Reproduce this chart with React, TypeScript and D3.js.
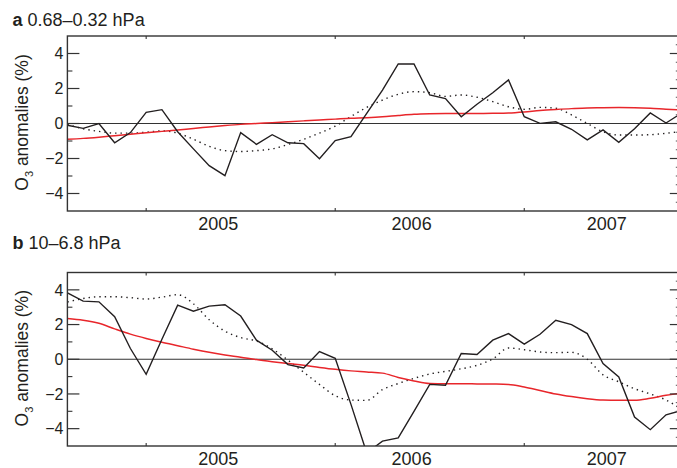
import React from 'react';
import * as d3 from 'd3';

// monthly samples, month 0 = left edge of the plot
const monthsA = d3.range(40);

const obsA = [-0.1, -0.28, 0, -1.1, -0.52, 0.64, 0.79, -0.47, -1.45, -2.41, -2.98, -0.52, -1.19, -0.64, -1.1, -1.15, -2.01, -0.98, -0.75, 0.58, 1.91, 3.4, 3.4, 1.63, 1.42, 0.39, 1.1, 1.76, 2.49, 0.39, 0.01, 0.1, -0.33, -0.94, -0.37, -1.08, -0.3, 0.6, 0.03, 0.6];
const fitA = [-0.05, -0.3, -0.45, -0.55, -0.55, -0.5, -0.42, -0.55, -0.9, -1.3, -1.55, -1.6, -1.55, -1.45, -1.2, -0.9, -0.55, -0.15, 0.4, 0.92, 1.34, 1.67, 1.82, 1.76, 1.55, 1.63, 1.5, 1.25, 0.96, 0.81, 0.92, 0.87, 0.49, 0.0, -0.47, -0.66, -0.66, -0.64, -0.56, -0.45];
const trendA = [-0.9, -0.85, -0.78, -0.7, -0.62, -0.53, -0.45, -0.37, -0.28, -0.2, -0.12, -0.05, 0.0, 0.05, 0.1, 0.15, 0.2, 0.25, 0.3, 0.33, 0.38, 0.46, 0.53, 0.56, 0.57, 0.57, 0.57, 0.58, 0.6, 0.66, 0.74, 0.8, 0.85, 0.88, 0.9, 0.91, 0.9, 0.87, 0.82, 0.78];

const obsB = [3.83, 3.35, 3.31, 2.45, 0.62, -0.87, 1.15, 3.12, 2.77, 3.06, 3.14, 2.49, 1.1, 0.52, -0.31, -0.5, 0.44, 0.05, -2.6, -5.4, -4.72, -4.53, -3.0, -1.45, -1.5, 0.33, 0.27, 1.1, 1.48, 0.87, 1.44, 2.25, 2.0, 1.48, -0.25, -1.02, -3.33, -4.06, -3.2, -2.95];
const fitB = [3.3, 3.5, 3.6, 3.6, 3.55, 3.47, 3.58, 3.72, 3.2, 2.28, 1.62, 1.25, 1.05, 0.6, -0.05, -0.75, -1.45, -2.1, -2.35, -2.37, -1.75, -1.4, -1.1, -0.85, -0.7, -0.55, -0.35, 0.02, 0.65, 0.55, 0.42, 0.38, 0.4, 0.0, -0.9, -1.3, -1.7, -2.0, -2.35, -2.9];
const trendB = [2.35, 2.25, 2.07, 1.75, 1.45, 1.2, 0.98, 0.78, 0.58, 0.4, 0.25, 0.12, -0.02, -0.14, -0.25, -0.35, -0.47, -0.58, -0.67, -0.73, -0.8, -1.05, -1.25, -1.4, -1.41, -1.41, -1.42, -1.43, -1.45, -1.6, -1.8, -2.0, -2.15, -2.27, -2.35, -2.37, -2.37, -2.25, -2.08, -1.95];

const yearTicks = [5, 17, 29];
const yearLabels = ['2005', '2006', '2007'];
const yearLabelPos = [9.58, 21.85, 34.23];
const yMajor = [-4, -2, 0, 2, 4];
const yMinor = [-3, -1, 1, 3];
const yRightMinor = d3.range(-4.5, 5, 0.5).filter(v => v % 2 !== 0);

const FONT = '"Liberation Sans", Arial, Helvetica, sans-serif';
const INK = '#231f20';
const RED = '#e8262b';

const left = 67.4;
const right = 681.8;
const x = d3.scaleLinear().domain([0, 39]).range([left, right]);

type PanelProps = {
  id: string;
  letter: string;
  title: string;
  top: number;
  bottom: number;
  titleY: number;
  obs: number[];
  fit: number[];
  trend: number[];
};

function Panel({ id, letter, title, top, bottom, titleY, obs, fit, trend }: PanelProps) {
  const y = d3.scaleLinear().domain([-5, 5]).range([bottom, top]);
  const line = d3.line<number>().x((d, i) => x(monthsA[i])).y(d => y(d));
  const smooth = d3.line<number>().x((d, i) => x(monthsA[i])).y(d => y(d)).curve(d3.curveMonotoneX);
  const mid = (top + bottom) / 2;
  return (
    <g>
      <defs>
        <clipPath id={'clip-' + id}>
          <rect x={left} y={top} width={right - left} height={bottom - top} />
        </clipPath>
      </defs>
      <text x={12.5} y={titleY} fontSize={18} fill={INK}>
        <tspan fontWeight="bold">{letter}</tspan> {title}
      </text>

      {/* zero line */}
      <line x1={left} x2={right} y1={y(0)} y2={y(0)} stroke="#333" strokeWidth={1.2} />

      <g clipPath={`url(#clip-${id})`}>
        <path d={smooth(fit) || ''} fill="none" stroke={INK} strokeWidth={1.4} strokeDasharray="1.4,4" />
        <path d={smooth(trend) || ''} fill="none" stroke={RED} strokeWidth={1.5} />
        <path d={line(obs) || ''} fill="none" stroke={INK} strokeWidth={1.4} strokeLinejoin="miter" />
      </g>

      {/* frame */}
      <rect x={left} y={top} width={right - left} height={bottom - top} fill="none" stroke="#333" strokeWidth={1.4} />

      {/* left ticks */}
      {yMajor.map(v => (
        <line key={'lM' + v} x1={left} x2={left + 12} y1={y(v)} y2={y(v)} stroke="#333" strokeWidth={1.2} />
      ))}
      {yMinor.map(v => (
        <line key={'lm' + v} x1={left} x2={left + 5} y1={y(v)} y2={y(v)} stroke="#333" strokeWidth={1.1} />
      ))}
      {/* right ticks */}
      {yMajor.map(v => (
        <line key={'rM' + v} x1={right} x2={right - 12} y1={y(v)} y2={y(v)} stroke="#333" strokeWidth={1.2} />
      ))}
      {yRightMinor.map(v => (
        <line key={'rm' + v} x1={right} x2={right - 6} y1={y(v)} y2={y(v)} stroke="#555" strokeWidth={1} />
      ))}
      {/* year ticks */}
      {yearTicks.map(m => (
        <g key={'t' + m}>
          <line x1={x(m)} x2={x(m)} y1={bottom} y2={bottom - 3} stroke="#333" strokeWidth={1.1} />
          <line x1={x(m)} x2={x(m)} y1={top} y2={top + 3} stroke="#333" strokeWidth={1.1} />
        </g>
      ))}

      {yMajor.map(v => (
        <text key={'yl' + v} x={63.5} y={y(v)} dy="0.36em" textAnchor="end" fontSize={16} fill={INK}>
          {v < 0 ? '\u2212' + Math.abs(v) : String(v)}
        </text>
      ))}
      {yearLabels.map((s, i) => (
        <text key={s} x={x(yearLabelPos[i])} y={bottom + 19} textAnchor="middle" fontSize={18} fill={INK}>
          {s}
        </text>
      ))}

      <text transform={`translate(28,${mid - 1}) rotate(-90)`} textAnchor="middle" fontSize={17.5} fill={INK}>
        O<tspan fontSize={11} dy={5}>3</tspan>
        <tspan dy={-5}> anomalies (%)</tspan>
      </text>
    </g>
  );
}

export default function App() {
  return (
    <svg
      width={677}
      height={468}
      style={{ position: 'absolute', left: 0, top: 0, background: '#fff' }}
      fontFamily={FONT}
    >
      <rect width={677} height={468} fill="#fff" />
      <Panel id="a" letter="a" title="0.68–0.32 hPa" top={36} bottom={211} titleY={25.5} obs={obsA} fit={fitA} trend={trendA} />
      <Panel id="b" letter="b" title="10–6.8 hPa" top={272.5} bottom={446} titleY={249} obs={obsB} fit={fitB} trend={trendB} />
    </svg>
  );
}
